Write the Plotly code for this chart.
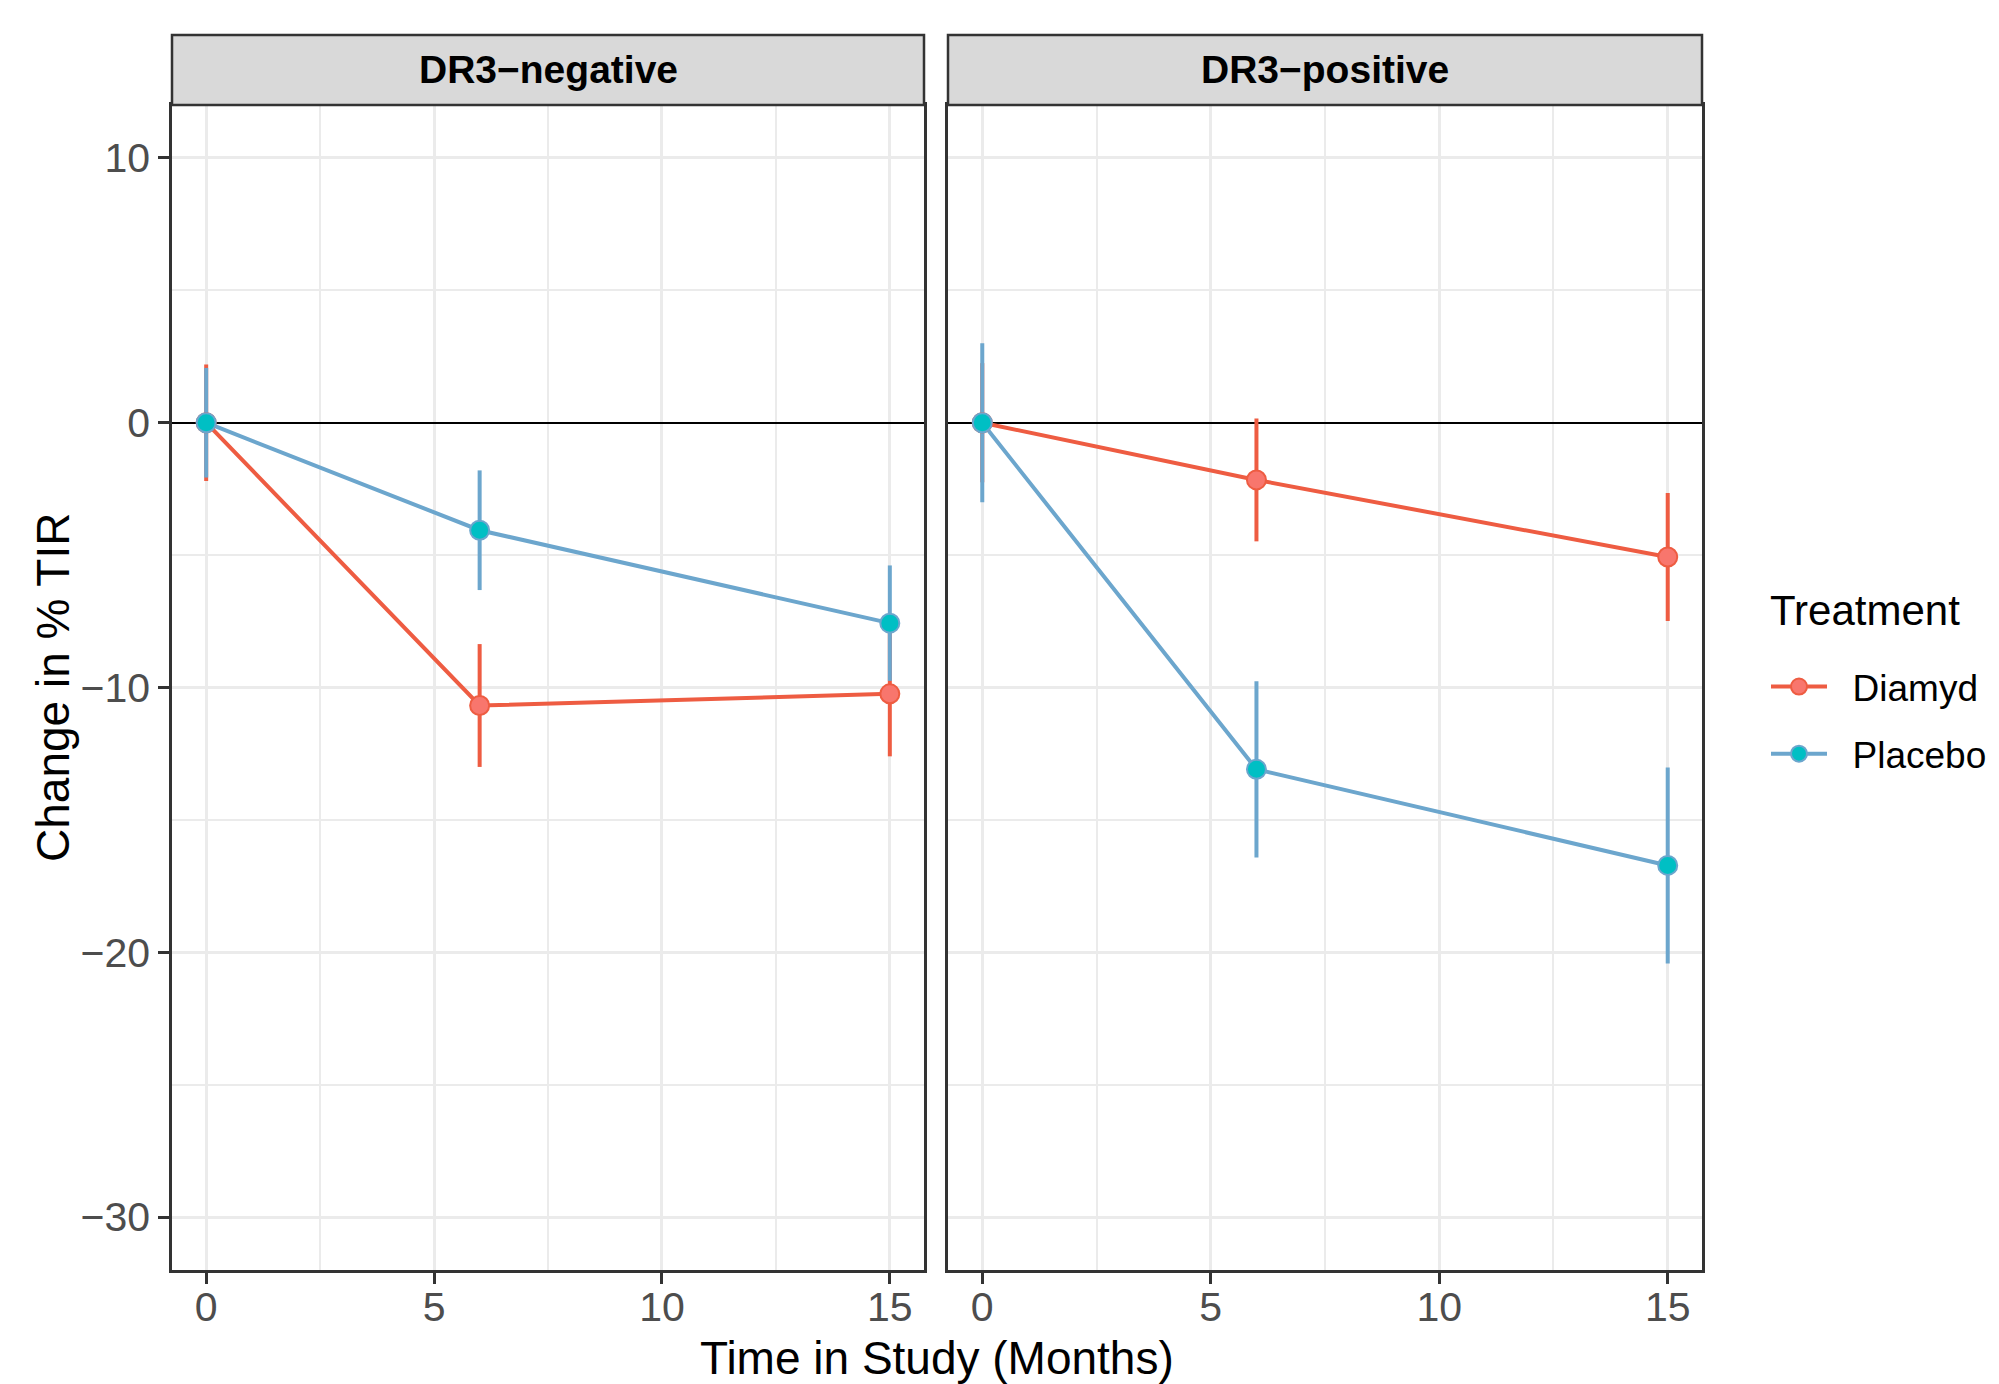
import plotly.graph_objects as go

# ---------------- data ----------------
months = [0, 6, 15]
panels = ["DR3−negative", "DR3−positive"]
treatments = ["Diamyd", "Placebo"]

neg_diamyd = [0.0, -10.68, -10.24]
neg_diamyd_err = [2.2, 2.32, 2.36]
neg_placebo = [0.0, -4.06, -7.57]
neg_placebo_err = [2.07, 2.26, 2.18]

pos_diamyd = [0.0, -2.16, -5.07]
pos_diamyd_err = [2.25, 2.32, 2.42]
pos_placebo = [0.0, -13.09, -16.72]
pos_placebo_err = [3.0, 3.33, 3.7]

x_ticks = [0, 5, 10, 15]
y_ticks = [10, 0, -10, -20, -30]
y_ticktext = ["10", "0", "−10", "−20", "−30"]

# ---------------- styles ----------------
W, H = 1999, 1384
FONT = "Liberation Sans, Arial, Helvetica, sans-serif"
line_col = {"Diamyd": "#EE5C42", "Placebo": "#6CA6CD"}
fill_col = {"Diamyd": "#F8766D", "Placebo": "#00BFC4"}
LW = 4

def px_x(p):
    return p / W

def px_y(p):
    return (H - p) / H

left_dom = [px_x(172), px_x(924)]
right_dom = [px_x(948), px_x(1702)]
plot_top, plot_bot = 105, 1270
strip_top = 35
y_dom = [px_y(plot_bot), px_y(plot_top)]

series = {
    ("x", "y"): {"Diamyd": (neg_diamyd, neg_diamyd_err), "Placebo": (neg_placebo, neg_placebo_err)},
    ("x2", "y2"): {"Diamyd": (pos_diamyd, pos_diamyd_err), "Placebo": (pos_placebo, pos_placebo_err)},
}

fig = go.Figure()

# lines + error bars first
for (xa, ya), d in series.items():
    for t in treatments:
        vals, errs = d[t]
        fig.add_trace(go.Scatter(
            x=months, y=vals, xaxis=xa, yaxis=ya, mode="lines",
            line=dict(color=line_col[t], width=LW),
            error_y=dict(type="data", array=errs, visible=True, color=line_col[t],
                         thickness=LW, width=0),
            showlegend=False, hoverinfo="skip"))
# points on top
for (xa, ya), d in series.items():
    for t in treatments:
        vals, errs = d[t]
        fig.add_trace(go.Scatter(
            x=months, y=vals, xaxis=xa, yaxis=ya, mode="markers",
            marker=dict(size=19, color=fill_col[t], line=dict(color=line_col[t], width=2)),
            showlegend=False))
# legend entries
NB = "\u00a0\u00a0"
for i, t in enumerate(treatments):
    fig.add_trace(go.Scatter(
        x=[None], y=[None], xaxis="x", yaxis="y", mode="lines+markers", name=NB + t,
        legendgroup=t,
        line=dict(color=line_col[t], width=LW),
        marker=dict(size=18, color=fill_col[t], line=dict(color=line_col[t], width=2)),
        showlegend=True))

axis_common = dict(
    showgrid=True, gridcolor="#EBEBEB", gridwidth=3,
    zeroline=False,
    showline=True, mirror=True, linecolor="#333333", linewidth=2.5,
    ticks="outside", ticklen=11, tickwidth=2.5, tickcolor="#333333",
    tickfont=dict(family=FONT, size=41, color="#4D4D4D"),
)

x_common = dict(axis_common, range=[-0.75, 15.75], tickvals=x_ticks,
                minor=dict(showgrid=True, gridcolor="#EBEBEB", gridwidth=1.7, tickvals=[2.5, 7.5, 12.5]),
                ticklabelstandoff=-12)
y_common = dict(axis_common, range=[-32, 12], tickvals=y_ticks, ticktext=y_ticktext,
                minor=dict(showgrid=True, gridcolor="#EBEBEB", gridwidth=1.7, tickvals=[5, -5, -15, -25]),
                zeroline=True, zerolinecolor="#000000", zerolinewidth=2)

fig.update_layout(
    width=W, height=H,
    margin=dict(l=0, r=0, t=0, b=0),
    paper_bgcolor="white", plot_bgcolor="white",
    font=dict(family=FONT, color="black"),
    xaxis=dict(x_common, domain=left_dom, anchor="y"),
    yaxis=dict(y_common, domain=y_dom, anchor="x", ticklabelstandoff=0),
    xaxis2=dict(x_common, domain=right_dom, anchor="y2"),
    yaxis2=dict(y_common, domain=y_dom, anchor="x2", matches="y", showticklabels=False, ticks=""),
    showlegend=True,
    legend=dict(
        x=px_x(1766), y=px_y(656), xanchor="left", yanchor="top",
        font=dict(family=FONT, size=37, color="black"),
        traceorder="grouped", tracegroupgap=16, itemwidth=56,
        bgcolor="rgba(0,0,0,0)", borderwidth=0,
    ),
)

# legend title
fig.add_annotation(text="Treatment", xref="paper", yref="paper",
                   x=px_x(1768), y=px_y(610), xanchor="left", yanchor="middle",
                   showarrow=False, font=dict(family=FONT, size=42, color="black"))

# strips
for dom, label in zip([left_dom, right_dom], panels):
    fig.add_shape(type="rect", xref="paper", yref="paper",
                  x0=dom[0], x1=dom[1], y0=px_y(plot_top), y1=px_y(strip_top),
                  fillcolor="#D9D9D9", line=dict(color="#333333", width=2.5), layer="above")
    fig.add_annotation(text="<b>" + label + "</b>", xref="paper", yref="paper",
                       x=(dom[0] + dom[1]) / 2, y=px_y((plot_top + strip_top) / 2),
                       xanchor="center", yanchor="middle", showarrow=False,
                       font=dict(family=FONT, size=39, color="black"))

# axis titles
fig.add_annotation(text="Time in Study (Months)", xref="paper", yref="paper",
                   x=px_x(937), y=px_y(1358), xanchor="center", yanchor="middle",
                   showarrow=False, font=dict(family=FONT, size=46, color="black"))
fig.add_annotation(text="Change in % TIR", xref="paper", yref="paper",
                   x=px_x(53), y=px_y(688), xanchor="center", yanchor="middle",
                   textangle=-90, showarrow=False, font=dict(family=FONT, size=46, color="black"))

fig.write_html("out.html")
